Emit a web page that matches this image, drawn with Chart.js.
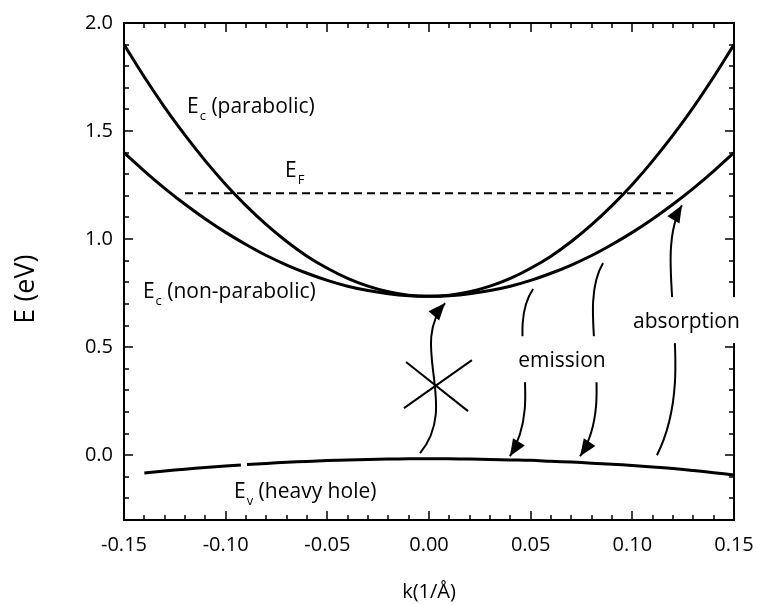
<!DOCTYPE html>
<html>
<head>
<meta charset="utf-8">
<script src="https://cdn.jsdelivr.net/npm/chart.js@4.4.1/dist/chart.umd.min.js"></script>
<style>
  html, body { margin: 0; padding: 0; background: #fff; }
</style>
</head>
<body>
<canvas id="bandchart" width="757" height="605"></canvas>
<script>
// wave vector k (1/A)
const kValues = [-0.15, -0.14, -0.13, -0.12, -0.11, -0.10, -0.09, -0.08, -0.07, -0.06, -0.05, -0.04, -0.03, -0.02, -0.01,
                 0.00, 0.01, 0.02, 0.03, 0.04, 0.05, 0.06, 0.07, 0.08, 0.09, 0.10, 0.11, 0.12, 0.13, 0.14, 0.15];
const ecParabolic = [1.900, 1.750, 1.610, 1.481, 1.362, 1.253, 1.155, 1.067, 0.989, 0.921, 0.865, 0.818, 0.782, 0.756, 0.740,
                     0.735, 0.740, 0.756, 0.782, 0.818, 0.865, 0.921, 0.989, 1.067, 1.155, 1.253, 1.362, 1.481, 1.610, 1.750, 1.900];
const ecNonParabolic = [1.400, 1.315, 1.235, 1.161, 1.093, 1.031, 0.975, 0.924, 0.880, 0.842, 0.809, 0.782, 0.762, 0.747, 0.738,
                        0.735, 0.738, 0.747, 0.762, 0.782, 0.809, 0.842, 0.880, 0.924, 0.975, 1.031, 1.093, 1.161, 1.235, 1.315, 1.400];

// heavy hole band, with the small break near k = -0.09
const evK = [-0.14, -0.13, -0.12, -0.11, -0.10, -0.0925, -0.091, -0.0895, -0.08, -0.07, -0.06, -0.05, -0.04, -0.03, -0.02, -0.01,
             0.00, 0.01, 0.02, 0.03, 0.04, 0.05, 0.06, 0.07, 0.08, 0.09, 0.10, 0.11, 0.12, 0.13, 0.14, 0.15];
const evE = [-0.082, -0.073, -0.065, -0.057, -0.050, -0.045, null, -0.043, -0.038, -0.033, -0.029, -0.025, -0.022, -0.020, -0.018, -0.017,
             -0.017, -0.017, -0.018, -0.020, -0.022, -0.024, -0.028, -0.032, -0.037, -0.042, -0.048, -0.055, -0.062, -0.071, -0.081, -0.092];

// Fermi level
const efK = [-0.12, 0.12];
const efE = [1.212, 1.212];

const xTickValues = [-0.15, -0.10, -0.05, 0.00, 0.05, 0.10, 0.15];
const yTickValues = [0.0, 0.5, 1.0, 1.5, 2.0];

// transitions, cubic bezier control points in (k, E)
const blockedArrow = [[-0.0044, 0.009], [0.0153, 0.232], [-0.0103, 0.509], [0.0079, 0.704]];
const emissionArrows = [
  [[0.0512, 0.769], [0.0374, 0.579], [0.0571, 0.255], [0.0398, -0.005]],
  [[0.0856, 0.889], [0.0718, 0.671], [0.0930, 0.255], [0.0743, -0.005]]
];
const absorptionArrow = [[0.1121, 0.000], [0.1333, 0.394], [0.1087, 0.903], [0.1244, 1.157]];
const crossMark = [
  [[-0.0113, 0.431], [0.0192, 0.204]],
  [[-0.0123, 0.218], [0.0211, 0.440]]
];

const bandLabels = [
  { k: -0.119, e: 1.583, main: 'E', sub: 'c', rest: ' (parabolic)' },
  { k: -0.0708, e: 1.287, main: 'E', sub: 'F', rest: '' },
  { k: -0.1407, e: 0.727, main: 'E', sub: 'c', rest: ' (non-parabolic)' },
  { k: -0.0959, e: -0.199, main: 'E', sub: 'v', rest: ' (heavy hole)' }
];
const boxedLabels = [
  { k: 0.0654, e: 0.407, text: 'emission' },
  { k: 0.1266, e: 0.588, text: 'absorption' }
];

const FONT = "'Open Sans', sans-serif";
Chart.defaults.font.family = FONT;
Chart.defaults.color = '#000';

function pairs(xs, ys) {
  return xs.map((x, i) => ({ x: x, y: ys[i] }));
}

function arrowHead(ctx, tip, from) {
  const ang = Math.atan2(tip[1] - from[1], tip[0] - from[0]);
  const L = 17, W = 7;
  const bx = tip[0] - L * Math.cos(ang), by = tip[1] - L * Math.sin(ang);
  ctx.beginPath();
  ctx.moveTo(tip[0], tip[1]);
  ctx.lineTo(bx + W * Math.sin(ang), by - W * Math.cos(ang));
  ctx.lineTo(bx - W * Math.sin(ang), by + W * Math.cos(ang));
  ctx.closePath();
  ctx.fill();
}

const bandDecor = {
  id: 'bandDecor',
  afterDatasetsDraw(chart) {
    const { ctx, chartArea: a, scales: { x, y } } = chart;
    const toPx = p => [x.getPixelForValue(p[0]), y.getPixelForValue(p[1])];
    ctx.save();
    ctx.strokeStyle = '#000';
    ctx.fillStyle = '#000';

    // frame with inward ticks on all four sides
    ctx.lineWidth = 2;
    ctx.strokeRect(a.left, a.top, a.right - a.left, a.bottom - a.top);
    ctx.lineWidth = 1.5;
    ctx.beginPath();
    for (let i = 0; i <= 30; i++) {
      const xx = Math.round(x.getPixelForValue(-0.15 + i * 0.01));
      const len = i % 5 === 0 ? 9 : 5;
      ctx.moveTo(xx, a.bottom); ctx.lineTo(xx, a.bottom - len);
      ctx.moveTo(xx, a.top); ctx.lineTo(xx, a.top + len);
    }
    for (let i = 0; i <= 23; i++) {
      const yy = Math.round(y.getPixelForValue(-0.3 + i * 0.1));
      const len = (i + 2) % 5 === 0 ? 9 : 5;
      ctx.moveTo(a.left, yy); ctx.lineTo(a.left + len, yy);
      ctx.moveTo(a.right, yy); ctx.lineTo(a.right - len, yy);
    }
    ctx.stroke();

    // curved transition arrows
    ctx.lineWidth = 2;
    const curves = [blockedArrow, ...emissionArrows, absorptionArrow];
    curves.forEach(c => {
      const p = c.map(toPx);
      ctx.beginPath();
      ctx.moveTo(p[0][0], p[0][1]);
      ctx.bezierCurveTo(p[1][0], p[1][1], p[2][0], p[2][1], p[3][0], p[3][1]);
      ctx.stroke();
      arrowHead(ctx, p[3], p[2]);
    });

    // forbidden transition cross
    ctx.beginPath();
    crossMark.forEach(seg => {
      const s = toPx(seg[0]), e = toPx(seg[1]);
      ctx.moveTo(s[0], s[1]); ctx.lineTo(e[0], e[1]);
    });
    ctx.stroke();

    // band labels with subscripts
    ctx.textBaseline = 'alphabetic';
    ctx.textAlign = 'left';
    bandLabels.forEach(l => {
      let [lx, ly] = toPx([l.k, l.e]);
      ctx.font = '21px ' + FONT;
      ctx.fillText(l.main, lx, ly);
      lx += ctx.measureText(l.main).width + 1;
      ctx.font = '13px ' + FONT;
      ctx.fillText(l.sub, lx, ly + 7);
      lx += ctx.measureText(l.sub).width;
      ctx.font = '21px ' + FONT;
      ctx.fillText(l.rest, lx, ly);
    });

    // labels sitting on white boxes (they cut the arrows and the right axis)
    ctx.font = '21px ' + FONT;
    ctx.textAlign = 'center';
    boxedLabels.forEach(l => {
      const [cx, by] = toPx([l.k, l.e]);
      const w = ctx.measureText(l.text).width;
      ctx.fillStyle = '#fff';
      ctx.fillRect(cx - w / 2 - 6, by - 31, w + 12, 46);
      ctx.fillStyle = '#000';
      ctx.fillText(l.text, cx, by);
    });
    ctx.restore();
  }
};

const ctx = document.getElementById('bandchart');
new Chart(ctx, {
  type: 'line',
  data: {
    datasets: [
      { label: 'Ec parabolic', data: pairs(kValues, ecParabolic), borderColor: '#000', borderWidth: 3, pointRadius: 0, tension: 0.4, fill: false },
      { label: 'Ec non-parabolic', data: pairs(kValues, ecNonParabolic), borderColor: '#000', borderWidth: 3, pointRadius: 0, tension: 0.4, fill: false },
      { label: 'EF', data: pairs(efK, efE), borderColor: '#000', borderWidth: 2, borderDash: [8, 5], pointRadius: 0, fill: false },
      { label: 'Ev', data: pairs(evK, evE), borderColor: '#000', borderWidth: 3, pointRadius: 0, tension: 0.4, spanGaps: false, fill: false }
    ]
  },
  options: {
    responsive: false,
    animation: false,
    layout: { padding: { top: 23, right: 23, left: 0, bottom: 0 } },
    plugins: {
      legend: { display: false },
      tooltip: { enabled: false }
    },
    scales: {
      x: {
        type: 'linear',
        min: -0.15,
        max: 0.15,
        grid: { display: false, drawTicks: false },
        border: { display: false },
        afterBuildTicks: scale => { scale.ticks = xTickValues.map(v => ({ value: v })); },
        afterFit: scale => {
          scale.height = 85;
          scale.paddingLeft = 0;
          scale.paddingRight = 0;
        },
        ticks: {
          padding: 13,
          maxRotation: 0,
          font: { size: 20 },
          callback: v => v.toFixed(2)
        },
        title: {
          display: true,
          text: 'k(1/\u00C5)',
          font: { size: 20 },
          padding: { top: 0, bottom: 1 }
        }
      },
      y: {
        min: -0.3,
        max: 2.0,
        grid: { display: false, drawTicks: false },
        border: { display: false },
        afterBuildTicks: scale => { scale.ticks = yTickValues.map(v => ({ value: v })); },
        afterFit: scale => {
          scale.width = 124;
          scale.paddingTop = 0;
          scale.paddingBottom = 0;
        },
        ticks: {
          padding: 11,
          font: { size: 20 },
          callback: v => v.toFixed(1)
        },
        title: {
          display: true,
          text: 'E (eV)     ',
          font: { size: 27 },
          padding: { top: 10, bottom: 0 }
        }
      }
    }
  },
  plugins: [bandDecor]
});
</script>
</body>
</html>
